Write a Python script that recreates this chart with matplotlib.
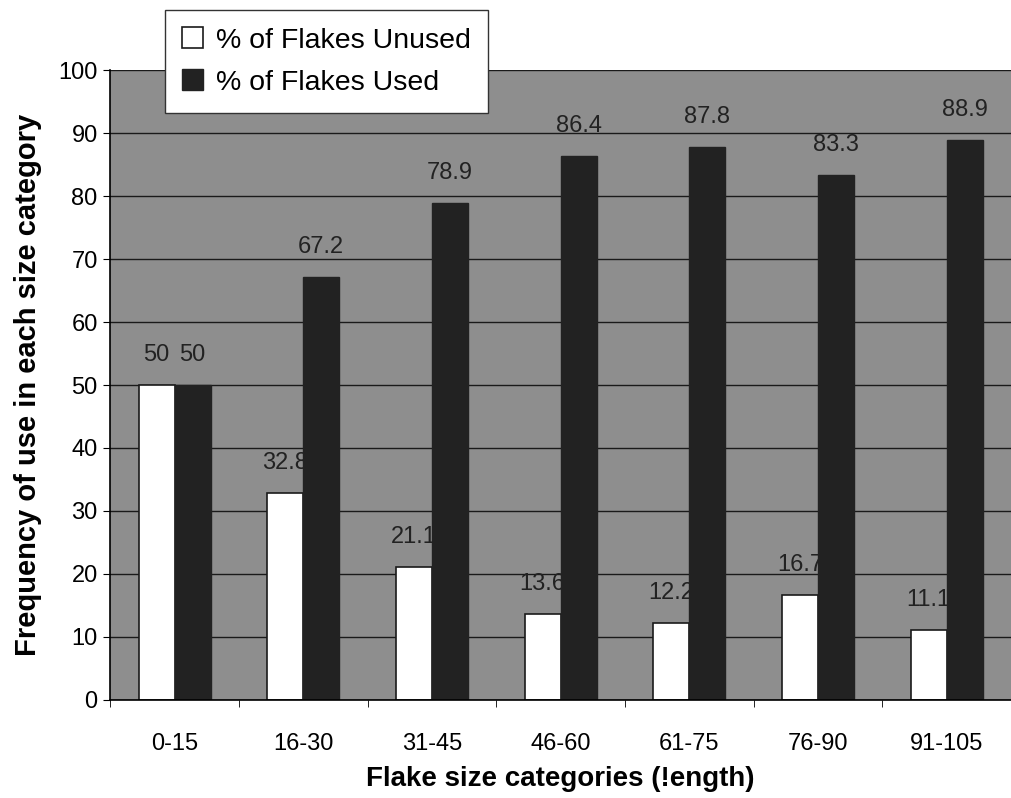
import matplotlib.pyplot as plt
import numpy as np

categories = ['0-15', '16-30', '31-45', '46-60', '61-75', '76-90', '91-105']
unused = [50, 32.8, 21.1, 13.6, 12.2, 16.7, 11.1]
used = [50, 67.2, 78.9, 86.4, 87.8, 83.3, 88.9]
unused_labels = ['50', '32.8', '21.1', '13.6', '12.2', '16.7', '11.1']
used_labels = ['50', '67.2', '78.9', '86.4', '87.8', '83.3', '88.9']

plt.rcParams['font.family'] = ['Liberation Sans', 'DejaVu Sans']

fig = plt.figure(figsize=(10.11, 7.98), dpi=100)
ax = fig.add_axes([0.109, 0.123, 0.891, 0.789])
ax.set_facecolor('#8e8e8e')

x = np.arange(len(categories))
w = 0.28
ax.set_axisbelow(True)
ax.yaxis.grid(True, color='#1a1a1a', linewidth=1.0)
b1 = ax.bar(x - w / 2, unused, w, color='white', edgecolor='#1a1a1a', linewidth=1.2,
            label='% of Flakes Unused')
b2 = ax.bar(x + w / 2, used, w, color='#222222', edgecolor='#222222', linewidth=1.0,
            label='% of Flakes Used')

for xi, v, s in zip(x, unused, unused_labels):
    ax.text(xi - w / 2, v + 3, s, ha='center', va='bottom', fontsize=17, color='#222222')
for xi, v, s in zip(x, used, used_labels):
    ax.text(xi + w / 2, v + 3, s, ha='center', va='bottom', fontsize=17, color='#222222')

ax.set_xlim(-0.5, len(categories) - 0.5)
ax.set_ylim(0, 100)
ax.set_yticks(np.arange(0, 101, 10))
ax.set_xticks(x)
ax.set_xticklabels(categories)
ax.set_xticks(np.arange(-0.5, len(categories), 1), minor=True)
ax.tick_params(axis='x', which='major', length=0, pad=24, labelsize=17)
ax.tick_params(axis='x', which='minor', length=5, direction='out')
ax.tick_params(axis='y', labelsize=17, length=5, direction='out', pad=4)

for sp in ['top', 'right']:
    ax.spines[sp].set_visible(False)
ax.spines['left'].set_linewidth(1.2)
ax.spines['bottom'].set_linewidth(1.2)

ax.set_ylabel('Frequency of use in each size category', fontsize=21, fontweight='bold', labelpad=12)
ax.set_xlabel('Flake size categories (!ength)', fontsize=20, fontweight='bold', labelpad=8)

leg = fig.legend(handles=[b1, b2], loc='upper left', bbox_to_anchor=(0.163, 0.987),
                 borderaxespad=0, fontsize=20.5, frameon=True, fancybox=False,
                 handlelength=0.75, handleheight=0.75, handletextpad=0.45,
                 borderpad=0.6, labelspacing=0.55)
leg.get_frame().set_edgecolor('#333333')
leg.get_frame().set_facecolor('white')
leg.get_frame().set_alpha(1.0)

fig.savefig('out.png', dpi=100)
